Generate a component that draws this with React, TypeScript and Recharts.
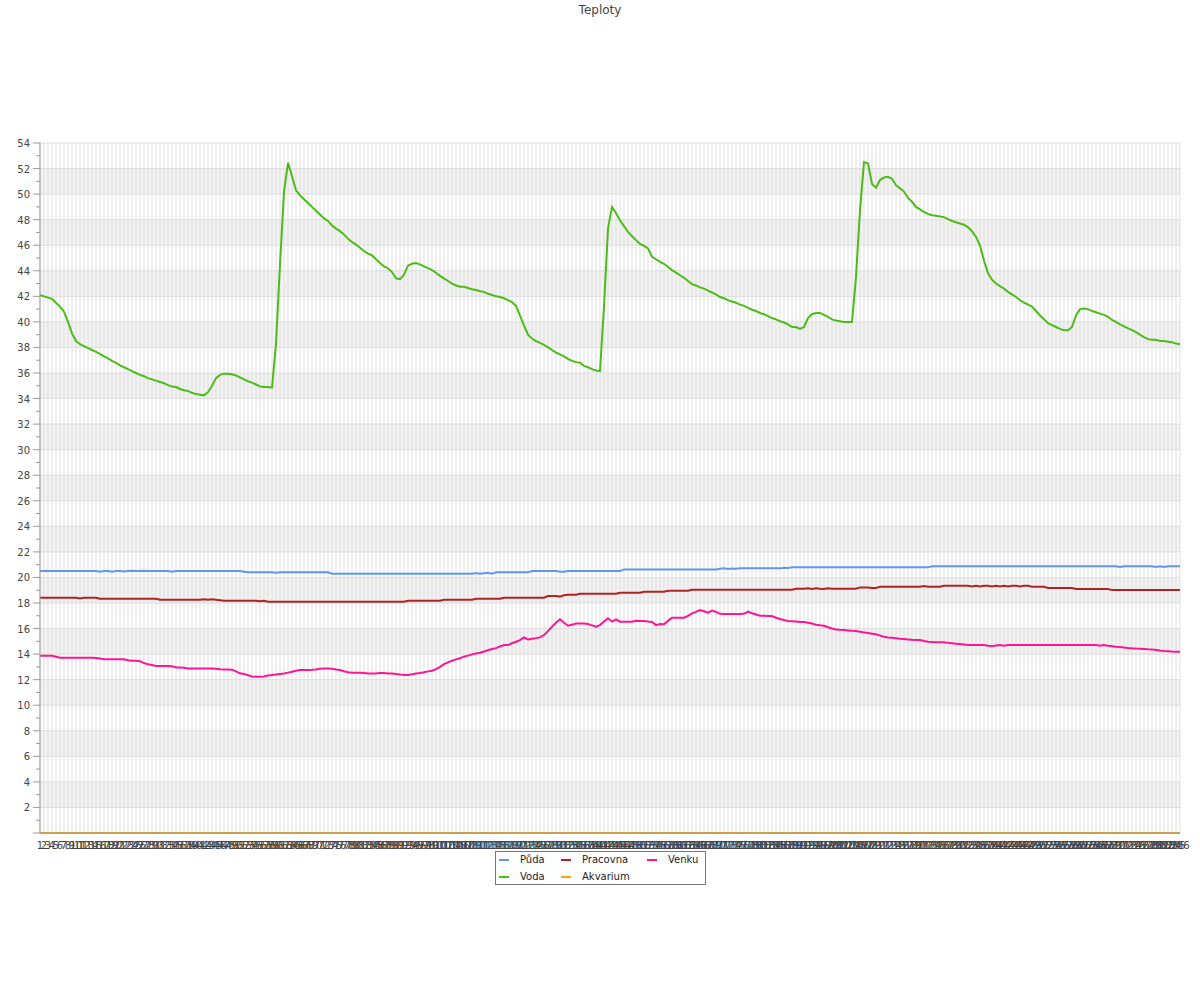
import { CartesianGrid, Line, LineChart, XAxis, YAxis } from "recharts";

// x categories 1..286
const CATEGORIES = Array.from({ length: 286 }, (_, i) => String(i + 1));

const Y_TICKS = [
	0, 1, 2, 3, 4, 5, 6, 7, 8, 9, 10, 11, 12, 13, 14, 15, 16, 17, 18, 19, 20, 21, 22, 23, 24, 25, 26, 27,
	28, 29, 30, 31, 32, 33, 34, 35, 36, 37, 38, 39, 40, 41, 42, 43, 44, 45, 46, 47, 48, 49, 50, 51, 52, 53, 54,
];
const Y_GRID = [0, 2, 4, 6, 8, 10, 12, 14, 16, 18, 20, 22, 24, 26, 28, 30, 32, 34, 36, 38, 40, 42, 44, 46, 48, 50, 52, 54];

const PUDA = [
	20.5, 20.5, 20.5, 20.5, 20.5, 20.5, 20.5, 20.5, 20.5, 20.5,
	20.5, 20.5, 20.5, 20.5, 20.5, 20.45, 20.5, 20.5, 20.45, 20.5,
	20.5, 20.47, 20.5, 20.52, 20.5, 20.5, 20.53, 20.5, 20.5, 20.5,
	20.5, 20.5, 20.5, 20.45, 20.5, 20.5, 20.5, 20.5, 20.5, 20.5,
	20.5, 20.5, 20.5, 20.5, 20.5, 20.5, 20.5, 20.5, 20.5, 20.5,
	20.5, 20.45, 20.4, 20.4, 20.4, 20.4, 20.4, 20.4, 20.4, 20.37,
	20.4, 20.4, 20.4, 20.4, 20.4, 20.4, 20.4, 20.4, 20.4, 20.4,
	20.4, 20.4, 20.4, 20.29, 20.29, 20.29, 20.29, 20.29, 20.29, 20.29,
	20.29, 20.29, 20.29, 20.29, 20.29, 20.29, 20.29, 20.29, 20.29, 20.29,
	20.29, 20.29, 20.29, 20.29, 20.29, 20.29, 20.29, 20.29, 20.29, 20.29,
	20.29, 20.29, 20.29, 20.29, 20.29, 20.29, 20.29, 20.29, 20.29, 20.35,
	20.29, 20.33, 20.37, 20.29, 20.4, 20.4, 20.4, 20.4, 20.4, 20.4,
	20.4, 20.4, 20.4, 20.5, 20.5, 20.5, 20.5, 20.5, 20.5, 20.5,
	20.45, 20.45, 20.5, 20.5, 20.5, 20.5, 20.5, 20.5, 20.5, 20.5,
	20.5, 20.5, 20.5, 20.5, 20.5, 20.5, 20.63, 20.63, 20.63, 20.63,
	20.63, 20.63, 20.63, 20.63, 20.63, 20.63, 20.63, 20.63, 20.63, 20.63,
	20.63, 20.63, 20.63, 20.63, 20.63, 20.63, 20.63, 20.63, 20.63, 20.63,
	20.68, 20.71, 20.66, 20.7, 20.68, 20.71, 20.71, 20.71, 20.71, 20.71,
	20.71, 20.71, 20.71, 20.71, 20.71, 20.71, 20.75, 20.73, 20.79, 20.79,
	20.79, 20.79, 20.79, 20.79, 20.79, 20.79, 20.79, 20.79, 20.79, 20.79,
	20.79, 20.79, 20.79, 20.79, 20.79, 20.79, 20.79, 20.79, 20.79, 20.79,
	20.79, 20.79, 20.79, 20.79, 20.79, 20.79, 20.79, 20.79, 20.79, 20.79,
	20.79, 20.79, 20.79, 20.87, 20.87, 20.87, 20.87, 20.87, 20.87, 20.87,
	20.87, 20.87, 20.87, 20.87, 20.87, 20.87, 20.87, 20.87, 20.87, 20.87,
	20.87, 20.87, 20.87, 20.87, 20.87, 20.87, 20.87, 20.87, 20.87, 20.87,
	20.87, 20.87, 20.87, 20.87, 20.87, 20.87, 20.87, 20.87, 20.87, 20.87,
	20.87, 20.87, 20.87, 20.87, 20.87, 20.87, 20.87, 20.87, 20.87, 20.87,
	20.82, 20.87, 20.87, 20.87, 20.87, 20.87, 20.87, 20.87, 20.87, 20.82,
	20.87, 20.82, 20.87, 20.87, 20.87, 20.87,
];

const PRACOVNA = [
	18.41, 18.41, 18.41, 18.41, 18.41, 18.41, 18.41, 18.41, 18.41, 18.41,
	18.36, 18.41, 18.41, 18.41, 18.41, 18.33, 18.33, 18.33, 18.33, 18.33,
	18.33, 18.33, 18.33, 18.33, 18.33, 18.33, 18.33, 18.33, 18.33, 18.33,
	18.26, 18.26, 18.26, 18.26, 18.26, 18.26, 18.26, 18.26, 18.26, 18.26,
	18.26, 18.3, 18.26, 18.3, 18.26, 18.22, 18.18, 18.18, 18.18, 18.18,
	18.18, 18.18, 18.18, 18.18, 18.18, 18.14, 18.18, 18.1, 18.1, 18.1,
	18.1, 18.1, 18.1, 18.1, 18.1, 18.1, 18.1, 18.1, 18.1, 18.1,
	18.1, 18.1, 18.1, 18.1, 18.1, 18.1, 18.1, 18.1, 18.1, 18.1,
	18.1, 18.1, 18.1, 18.1, 18.1, 18.1, 18.1, 18.1, 18.1, 18.1,
	18.1, 18.1, 18.18, 18.18, 18.18, 18.18, 18.18, 18.18, 18.18, 18.18,
	18.18, 18.26, 18.26, 18.26, 18.26, 18.26, 18.26, 18.26, 18.26, 18.33,
	18.33, 18.33, 18.33, 18.33, 18.33, 18.33, 18.41, 18.41, 18.41, 18.41,
	18.41, 18.41, 18.41, 18.41, 18.41, 18.41, 18.41, 18.54, 18.54, 18.54,
	18.5, 18.6, 18.65, 18.65, 18.65, 18.73, 18.73, 18.73, 18.73, 18.73,
	18.73, 18.73, 18.73, 18.73, 18.73, 18.8, 18.8, 18.8, 18.8, 18.8,
	18.8, 18.88, 18.88, 18.88, 18.88, 18.88, 18.88, 18.96, 18.96, 18.96,
	18.96, 18.96, 18.96, 19.04, 19.04, 19.04, 19.04, 19.04, 19.04, 19.04,
	19.04, 19.04, 19.04, 19.04, 19.04, 19.04, 19.04, 19.04, 19.04, 19.04,
	19.04, 19.04, 19.04, 19.04, 19.04, 19.04, 19.04, 19.04, 19.04, 19.12,
	19.12, 19.12, 19.15, 19.1, 19.15, 19.12, 19.1, 19.15, 19.12, 19.12,
	19.12, 19.12, 19.12, 19.12, 19.12, 19.22, 19.22, 19.22, 19.17, 19.17,
	19.27, 19.27, 19.27, 19.27, 19.27, 19.27, 19.27, 19.27, 19.27, 19.27,
	19.27, 19.33, 19.27, 19.27, 19.27, 19.27, 19.35, 19.35, 19.35, 19.35,
	19.35, 19.35, 19.35, 19.3, 19.35, 19.3, 19.35, 19.35, 19.3, 19.35,
	19.3, 19.35, 19.3, 19.35, 19.35, 19.3, 19.35, 19.35, 19.27, 19.27,
	19.27, 19.27, 19.17, 19.17, 19.17, 19.17, 19.17, 19.17, 19.17, 19.09,
	19.09, 19.09, 19.09, 19.09, 19.09, 19.09, 19.09, 19.09, 19.01, 19.01,
	19.01, 19.01, 19.01, 19.01, 19.01, 19.01, 19.01, 19.01, 19.01, 19.01,
	19.01, 19.01, 19.01, 19.01, 19.01, 19.01,
];

const VENKU = [
	13.87, 13.87, 13.87, 13.87, 13.8, 13.72, 13.72, 13.72, 13.72, 13.72,
	13.72, 13.72, 13.72, 13.72, 13.7, 13.65, 13.59, 13.59, 13.59, 13.59,
	13.59, 13.59, 13.52, 13.48, 13.48, 13.45, 13.3, 13.2, 13.15, 13.07,
	13.07, 13.07, 13.07, 13.05, 12.96, 12.96, 12.93, 12.88, 12.88, 12.88,
	12.88, 12.88, 12.88, 12.88, 12.85, 12.82, 12.8, 12.8, 12.78, 12.65,
	12.5, 12.45, 12.35, 12.25, 12.23, 12.23, 12.25, 12.33, 12.36, 12.4,
	12.45, 12.49, 12.55, 12.62, 12.7, 12.75, 12.75, 12.75, 12.77, 12.8,
	12.85, 12.88, 12.88, 12.86, 12.8, 12.75, 12.66, 12.58, 12.54, 12.54,
	12.54, 12.52, 12.49, 12.49, 12.49, 12.52, 12.52, 12.49, 12.49, 12.45,
	12.4, 12.36, 12.36, 12.42, 12.49, 12.52, 12.58, 12.65, 12.7, 12.83,
	13.0, 13.22, 13.35, 13.48, 13.59, 13.68, 13.8, 13.88, 13.98, 14.05,
	14.11, 14.2, 14.3, 14.4, 14.47, 14.6, 14.71, 14.71, 14.85, 14.97,
	15.1, 15.31, 15.15, 15.2, 15.25, 15.31, 15.49, 15.8, 16.14, 16.45,
	16.72, 16.45, 16.22, 16.3, 16.4, 16.4, 16.4, 16.35, 16.25, 16.14,
	16.27, 16.55, 16.8, 16.54, 16.72, 16.54, 16.54, 16.54, 16.54, 16.61,
	16.6, 16.6, 16.55, 16.51, 16.27, 16.35, 16.33, 16.6, 16.85, 16.85,
	16.85, 16.85, 17.0, 17.19, 17.3, 17.45, 17.35, 17.24, 17.4, 17.3,
	17.15, 17.13, 17.13, 17.13, 17.13, 17.13, 17.15, 17.32, 17.2, 17.1,
	17.0, 17.0, 16.98, 16.98, 16.85, 16.75, 16.67, 16.6, 16.58, 16.55,
	16.51, 16.51, 16.45, 16.4, 16.3, 16.25, 16.22, 16.1, 16.0, 15.93,
	15.9, 15.88, 15.85, 15.82, 15.8, 15.75, 15.7, 15.65, 15.6, 15.55,
	15.45, 15.36, 15.3, 15.28, 15.25, 15.2, 15.18, 15.15, 15.12, 15.1,
	15.1, 15.02, 14.97, 14.95, 14.93, 14.92, 14.92, 14.88, 14.85, 14.82,
	14.79, 14.75, 14.71, 14.71, 14.71, 14.71, 14.71, 14.66, 14.62, 14.68,
	14.71, 14.66, 14.71, 14.71, 14.71, 14.71, 14.71, 14.71, 14.71, 14.71,
	14.71, 14.71, 14.71, 14.71, 14.71, 14.71, 14.71, 14.71, 14.71, 14.71,
	14.71, 14.71, 14.71, 14.71, 14.71, 14.65, 14.71, 14.66, 14.62, 14.58,
	14.56, 14.52, 14.48, 14.45, 14.43, 14.42, 14.4, 14.38, 14.37, 14.33,
	14.28, 14.24, 14.22, 14.2, 14.19, 14.19,
];

const VODA = [
	42.1, 42.0, 41.9, 41.8, 41.5, 41.2, 40.8, 40.0, 39.1, 38.5,
	38.25, 38.1, 37.95, 37.8, 37.65, 37.5, 37.3, 37.15, 36.95, 36.8,
	36.6, 36.45, 36.3, 36.15, 36.0, 35.85, 35.75, 35.6, 35.5, 35.4,
	35.3, 35.2, 35.05, 34.95, 34.9, 34.75, 34.65, 34.6, 34.45, 34.35,
	34.3, 34.25, 34.5, 35.0, 35.6, 35.85, 35.95, 35.95, 35.9, 35.8,
	35.65, 35.5, 35.35, 35.25, 35.1, 34.95, 34.9, 34.9, 34.85, 38.3,
	44.5, 50.2, 52.45, 51.4, 50.3, 49.9, 49.6, 49.3, 49.0, 48.7,
	48.4, 48.1, 47.9, 47.55, 47.3, 47.1, 46.85, 46.5, 46.25, 46.05,
	45.8, 45.55, 45.35, 45.2, 44.9, 44.6, 44.35, 44.2, 43.9, 43.4,
	43.35, 43.7, 44.4, 44.55, 44.6, 44.5, 44.35, 44.2, 44.05, 43.85,
	43.6, 43.4, 43.2, 43.0, 42.85, 42.75, 42.75, 42.65, 42.55, 42.5,
	42.4, 42.35, 42.2, 42.1, 42.0, 41.95, 41.85, 41.7, 41.55, 41.25,
	40.5, 39.7, 39.0, 38.7, 38.5, 38.35, 38.2, 38.0, 37.8, 37.6,
	37.45, 37.3, 37.1, 36.95, 36.85, 36.8, 36.55, 36.45, 36.3, 36.2,
	36.15, 41.2, 47.3, 49.0, 48.5, 47.95, 47.5, 47.05, 46.7, 46.4,
	46.1, 45.95, 45.75, 45.1, 44.9, 44.7, 44.55, 44.3, 44.05, 43.85,
	43.65, 43.45, 43.2, 42.95, 42.85, 42.7, 42.6, 42.45, 42.3, 42.15,
	41.95, 41.85, 41.7, 41.6, 41.5, 41.35, 41.25, 41.1, 40.95, 40.85,
	40.7, 40.6, 40.45, 40.3, 40.2, 40.05, 39.95, 39.8, 39.6, 39.6,
	39.45, 39.6, 40.3, 40.6, 40.7, 40.7, 40.55, 40.4, 40.2, 40.1,
	40.05, 40.0, 40.0, 40.0, 43.5, 48.75, 52.5, 52.4, 50.8, 50.5,
	51.1, 51.3, 51.35, 51.2, 50.7, 50.45, 50.2, 49.7, 49.4, 49.0,
	48.8, 48.6, 48.45, 48.35, 48.3, 48.25, 48.2, 48.05, 47.9, 47.8,
	47.7, 47.6, 47.4, 47.1, 46.65, 46.0, 44.8, 43.8, 43.3, 43.0,
	42.8, 42.6, 42.35, 42.15, 41.95, 41.7, 41.5, 41.35, 41.2, 40.85,
	40.5, 40.2, 39.9, 39.75, 39.6, 39.45, 39.35, 39.35, 39.6, 40.5,
	41.0, 41.05, 41.0, 40.85, 40.75, 40.65, 40.55, 40.4, 40.15, 40.0,
	39.8, 39.65, 39.5, 39.35, 39.2, 39.0, 38.8, 38.65, 38.6, 38.6,
	38.5, 38.5, 38.45, 38.4, 38.3, 38.25,
];

const AKVARIUM = [
	0, 0, 0, 0, 0, 0, 0, 0, 0, 0, 0, 0, 0, 0, 0, 0, 0, 0, 0, 0, 0, 0, 0, 0, 0, 0,
	0, 0, 0, 0, 0, 0, 0, 0, 0, 0, 0, 0, 0, 0, 0, 0, 0, 0, 0, 0, 0, 0, 0, 0, 0, 0,
	0, 0, 0, 0, 0, 0, 0, 0, 0, 0, 0, 0, 0, 0, 0, 0, 0, 0, 0, 0, 0, 0, 0, 0, 0, 0,
	0, 0, 0, 0, 0, 0, 0, 0, 0, 0, 0, 0, 0, 0, 0, 0, 0, 0, 0, 0, 0, 0, 0, 0, 0, 0,
	0, 0, 0, 0, 0, 0, 0, 0, 0, 0, 0, 0, 0, 0, 0, 0, 0, 0, 0, 0, 0, 0, 0, 0, 0, 0,
	0, 0, 0, 0, 0, 0, 0, 0, 0, 0, 0, 0, 0, 0, 0, 0, 0, 0, 0, 0, 0, 0, 0, 0, 0, 0,
	0, 0, 0, 0, 0, 0, 0, 0, 0, 0, 0, 0, 0, 0, 0, 0, 0, 0, 0, 0, 0, 0, 0, 0, 0, 0,
	0, 0, 0, 0, 0, 0, 0, 0, 0, 0, 0, 0, 0, 0, 0, 0, 0, 0, 0, 0, 0, 0, 0, 0, 0, 0,
	0, 0, 0, 0, 0, 0, 0, 0, 0, 0, 0, 0, 0, 0, 0, 0, 0, 0, 0, 0, 0, 0, 0, 0, 0, 0,
	0, 0, 0, 0, 0, 0, 0, 0, 0, 0, 0, 0, 0, 0, 0, 0, 0, 0, 0, 0, 0, 0, 0, 0, 0, 0,
	0, 0, 0, 0, 0, 0, 0, 0, 0, 0, 0, 0, 0, 0, 0, 0, 0, 0, 0, 0, 0, 0, 0, 0, 0, 0,
];

const SERIES = [
	{ key: "puda", name: "Půda", color: "#6495ed", values: PUDA },
	{ key: "pracovna", name: "Pracovna", color: "#b22222", values: PRACOVNA },
	{ key: "venku", name: "Venku", color: "#ff1493", values: VENKU },
	{ key: "voda", name: "Voda", color: "#4cbb17", values: VODA },
	{ key: "akvarium", name: "Akvarium", color: "#ffa500", values: AKVARIUM },
];

const DATA = CATEGORIES.map((x, i) => {
	const row: Record<string, string | number> = { x };
	SERIES.forEach((s) => {
		row[s.key] = s.values[i];
	});
	return row;
});

const FONT = '"DejaVu Sans", sans-serif';
const PLOT_LEFT = 40;

function YTick(props: any) {
	const { y, payload } = props;
	const v = payload.value;
	const major = v % 2 === 0;
	return (
		<g>
			<line x1={PLOT_LEFT - (major ? 7 : 4)} x2={PLOT_LEFT} y1={y} y2={y} stroke="#999" />
			{major && v !== 0 && (
				<text x={PLOT_LEFT - 10} y={y} dy={4} textAnchor="end" fontSize={10} fill="#444" fontFamily={FONT}>
					{v}
				</text>
			)}
		</g>
	);
}

// legend columns (row-major, 3 per row)
const LEGEND_COLS = [499, 561, 647];

export default function App() {
	return (
		<div style={{ position: "relative", width: 1200, height: 1000, fontFamily: FONT, background: "#fff" }}>
			<style>{"body{margin:0}"}</style>
			<div
				style={{
					position: "absolute",
					top: 3,
					left: 0,
					width: 1200,
					textAlign: "center",
					fontSize: 12,
					color: "#444",
				}}
			>
				Teploty
			</div>
			<LineChart width={1200} height={1000} data={DATA} margin={{ top: 143, right: 20, bottom: 137, left: 0 }}>
				<CartesianGrid
					stroke="#dddddd"
					horizontalValues={Y_GRID}
					horizontalFill={["#ffffff", "#f2f2f2"]}
				/>
				<XAxis
					dataKey="x"
					interval={0}
					tickLine={false}
					axisLine={{ stroke: "#999" }}
					height={30}
					tickMargin={3}
					tick={{ fontSize: 10, fill: "#444", fontFamily: FONT }}
				/>
				<YAxis
					type="number"
					domain={[0, 54]}
					ticks={Y_TICKS}
					interval={0}
					width={40}
					tickLine={false}
					axisLine={{ stroke: "#999" }}
					tick={<YTick />}
				/>
				{SERIES.map((s) => (
					<Line
						key={s.key}
						type="linear"
						dataKey={s.key}
						name={s.name}
						stroke={s.color}
						strokeWidth={2}
						dot={false}
						isAnimationActive={false}
					/>
				))}
			</LineChart>
			<div
				style={{
					position: "absolute",
					left: 495,
					top: 851,
					width: 211,
					height: 34,
					border: "1px solid #777",
					boxSizing: "border-box",
				}}
			/>
			{SERIES.map((s, i) => {
				const col = i % 3;
				const row = Math.floor(i / 3);
				const top = 860 + row * 17;
				return (
					<div key={s.key}>
						<div
							style={{
								position: "absolute",
								left: LEGEND_COLS[col],
								top: top - 1,
								width: 10,
								height: 2,
								background: s.color,
							}}
						/>
						<div
							style={{
								position: "absolute",
								left: LEGEND_COLS[col] + 21,
								top: top - 7,
								fontSize: 10,
								lineHeight: "13px",
								color: "#222",
								whiteSpace: "nowrap",
							}}
						>
							{s.name}
						</div>
					</div>
				);
			})}
		</div>
	);
}
